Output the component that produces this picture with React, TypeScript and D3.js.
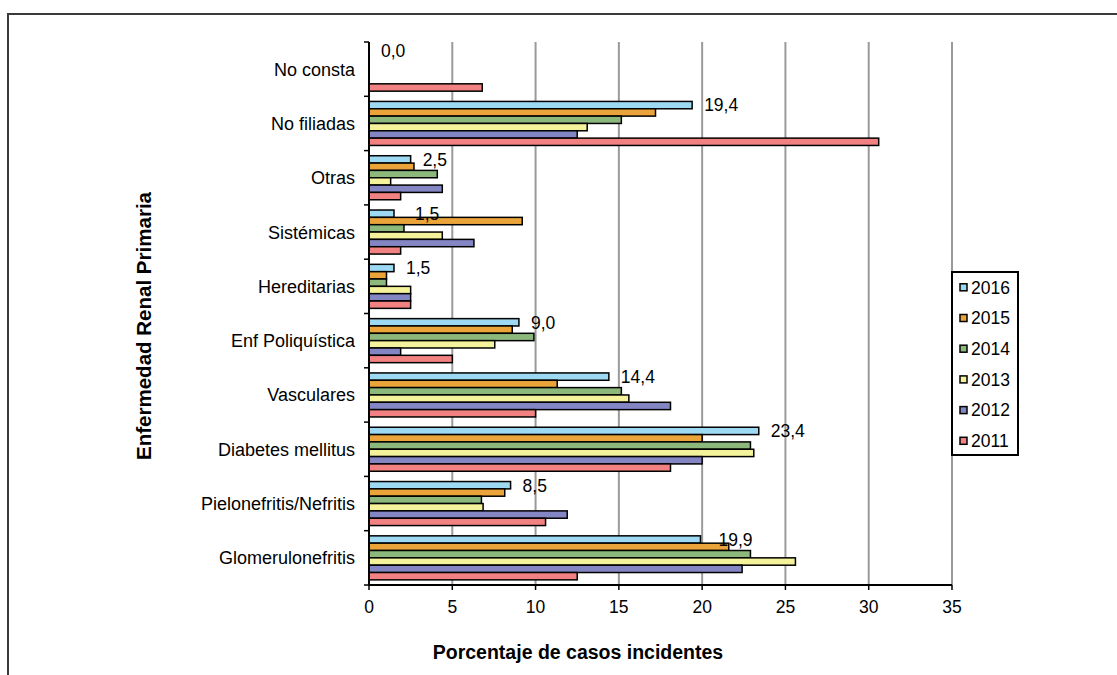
import React from "react";
import * as d3 from "d3";

// Categories, top to bottom as drawn
const categories = [
  "No consta",
  "No filiadas",
  "Otras",
  "Sistémicas",
  "Hereditarias",
  "Enf Poliquística",
  "Vasculares",
  "Diabetes mellitus",
  "Pielonefritis/Nefritis",
  "Glomerulonefritis",
];

// Series order within each group, top to bottom
const years = ["2016", "2015", "2014", "2013", "2012", "2011"];

const v2016 = [0.0, 19.4, 2.5, 1.5, 1.5, 9.0, 14.4, 23.4, 8.5, 19.9];
const v2015 = [0, 17.2, 2.7, 9.2, 1.05, 8.6, 11.3, 20.0, 8.15, 21.6];
const v2014 = [0, 15.15, 4.1, 2.1, 1.05, 9.9, 15.15, 22.9, 6.75, 22.9];
const v2013 = [0, 13.1, 1.3, 4.4, 2.5, 7.55, 15.6, 23.1, 6.85, 25.6];
const v2012 = [0, 12.5, 4.4, 6.3, 2.5, 1.9, 18.1, 20.0, 11.9, 22.4];
const v2011 = [6.8, 30.6, 1.9, 1.9, 2.5, 5.0, 10.0, 18.1, 10.6, 12.5];

const seriesValues = [v2016, v2015, v2014, v2013, v2012, v2011];
const xTicks = [0, 5, 10, 15, 20, 25, 30, 35];

const colors = ["#9DD9F3", "#EBA43A", "#8DB87C", "#F4F29A", "#8486C4", "#F28282"];
// per-category extra horizontal nudge of the 2016 value label (style)
const labelNudge: Record<string, number> = { "Sistémicas": 9, "Glomerulonefritis": 6 };

const FONT = "'Liberation Sans', Arial, sans-serif";

export default function App() {
  const W = 1117, H = 675;
  const left = 369, right = 952, top = 42, bottom = 585;

  const x = d3.scaleLinear().domain([0, 35]).range([left, right]);
  const y0 = d3.scaleBand<string>().domain(categories).range([top, bottom]).paddingInner(0).paddingOuter(0);
  const y1 = d3.scaleBand<string>().domain(years).range([0, y0.bandwidth()]).paddingInner(0).paddingOuter(0.7);

  const fmt = (v: number) => v.toFixed(1).replace(".", ",");

  const boundaries = categories.map((c) => y0(c)!).concat([bottom]);

  return (
    <svg width={W} height={H} style={{ position: "absolute", left: 0, top: 0, background: "#fff" }} fontFamily={FONT}>
      <rect x={0} y={0} width={W} height={H} fill="#fff" />
      {/* outer frame */}
      <rect x={8} y={14} width={W + 20} height={H + 20} fill="none" stroke="#3a3a3a" strokeWidth={2} />

      {/* gridlines */}
      {xTicks.filter((t) => t > 0).map((t) => (
        <line key={"g" + t} x1={x(t)} x2={x(t)} y1={top} y2={bottom} stroke="#9a9a9a" strokeWidth={2} />
      ))}

      {/* bars */}
      {years.map((yr, si) => (
        <g key={yr}>
          {categories.map((c, ci) => {
            const v = seriesValues[si][ci];
            if (v <= 0) return null;
            return (
              <rect
                key={c}
                x={x(0)}
                y={y0(c)! + y1(yr)!}
                width={x(v) - x(0)}
                height={y1.bandwidth()}
                fill={colors[si]}
                stroke="#000"
                strokeWidth={1.5}
              />
            );
          })}
        </g>
      ))}

      {/* 2016 value labels */}
      {categories.map((c, ci) => (
        <text
          key={"l" + c}
          x={x(v2016[ci]) + 12 + (labelNudge[c] || 0)}
          y={y0(c)! + y1("2016")! + y1.bandwidth() / 2}
          dy="0.36em"
          fontSize={17.5}
          fill="#000"
        >
          {fmt(v2016[ci])}
        </text>
      ))}

      {/* y axis */}
      <line x1={left} x2={left} y1={top} y2={bottom} stroke="#000" strokeWidth={2} />
      {boundaries.map((b, i) => (
        <line key={"yt" + i} x1={left - 5} x2={left} y1={b} y2={b} stroke="#000" strokeWidth={1.5} />
      ))}
      {categories.map((c) => (
        <text key={"c" + c} x={355} y={y0(c)! + y0.bandwidth() / 2} dy="0.36em" textAnchor="end" fontSize={18} fill="#000">
          {c}
        </text>
      ))}

      {/* x axis */}
      <line x1={left} x2={right} y1={bottom} y2={bottom} stroke="#000" strokeWidth={2} />
      {xTicks.map((t) => (
        <g key={"xt" + t}>
          <line x1={x(t)} x2={x(t)} y1={bottom} y2={bottom + 5} stroke="#000" strokeWidth={1.5} />
          <text x={x(t)} y={613} textAnchor="middle" fontSize={17.5} fill="#000">
            {t}
          </text>
        </g>
      ))}

      {/* axis titles */}
      <text x={578} y={659} textAnchor="middle" fontSize={19.5} fontWeight="bold" fill="#000">
        Porcentaje de casos incidentes
      </text>
      <text
        x={151}
        y={326}
        transform="rotate(-90 151 326)"
        textAnchor="middle"
        fontSize={19.5}
        fontWeight="bold"
        fill="#000"
        textLength={268}
        lengthAdjust="spacingAndGlyphs"
      >
        Enfermedad Renal Primaria
      </text>

      {/* legend */}
      <rect x={952} y={272} width={66} height={183} fill="#fff" stroke="#000" strokeWidth={2} />
      {years.map((yr, i) => {
        const cy = 287.3 + i * 30.7;
        return (
          <g key={"lg" + yr}>
            <rect x={960} y={cy - 3.5} width={7} height={7} fill={colors[i]} stroke="#000" strokeWidth={1.5} />
            <text x={971} y={cy} dy="0.36em" fontSize={17.5} fill="#000">
              {yr}
            </text>
          </g>
        );
      })}
    </svg>
  );
}
